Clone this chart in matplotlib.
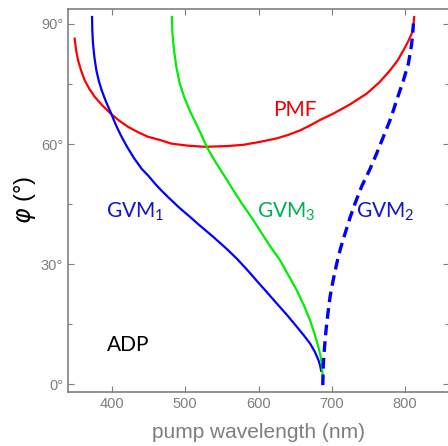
import matplotlib.pyplot as plt

plt.rcParams['font.family'] = ['Liberation Sans', 'DejaVu Sans']
plt.rcParams['mathtext.fontset'] = 'custom'
plt.rcParams['mathtext.rm'] = 'Lato'
plt.rcParams['mathtext.it'] = 'DejaVu Sans:italic'

# curve data (wavelength in nm, angle in deg)
pmf_wl = [349.1, 351, 353.7, 358, 362.8, 369, 376.4, 387, 398.3, 410, 421.9, 435, 449.2, 465.6,
          481, 503, 527, 558.4, 579.3, 601, 624.9, 641, 656.7, 670, 684, 702.2, 725, 747.8,
          765, 779.6, 790, 797.8, 804, 809.2, 811.5, 812.4]
pmf_phi = [86.3, 83.5, 80.9, 78.3, 75.9, 73.8, 71.8, 69.6, 67.6, 65.8, 64.3, 63.0, 61.8, 61.0,
           60.1, 59.6, 59.3, 59.5, 59.8, 60.5, 61.4, 62.3, 63.4, 64.6, 66.0, 67.6, 69.9, 72.6,
           75.4, 78.4, 80.9, 83.4, 85.5, 87.6, 89.7, 91.7]

gvm1_wl = [372.8, 373.2, 374.1, 376, 378.7, 382, 386, 392, 398.5, 405, 412, 420, 430, 440.6,
           450, 458.8, 468, 476.9, 492.5, 506.6, 520.2, 538.4, 556.7, 570.3, 585, 599.8,
           612, 624.9, 639, 652.2, 662, 670.4, 677, 681.7, 684, 685.5]
gvm1_phi = [91.7, 88.3, 85.1, 81.7, 78.4, 75.8, 73.4, 70.5, 67.8, 64.9, 62.2, 59.5, 56.5, 53.8,
            52.0, 50.1, 48.3, 46.7, 44.0, 41.8, 39.6, 36.8, 33.8, 31.4, 28.5, 25.4,
            22.9, 20.2, 17.3, 14.4, 12.2, 10.2, 8.1, 6.1, 4.8, 3.4]

gvm2_wl = [687.7, 688.5, 690.2, 692.2, 694.8, 697.7, 702, 706.8, 712, 718.2, 724.7, 731.8, 741,
           752.3, 761.4, 770.4, 779.6, 784.1, 788.7, 797.8, 804.6, 808.5, 810.5, 811.4]
gvm2_phi = [-0.2, 5.2, 9.5, 13.6, 17.8, 21.9, 26.1, 30.2, 34.0, 37.7, 41.5, 45.2, 49.5,
            53.8, 57.7, 61.8, 66.0, 68.4, 71.0, 75.9, 80.1, 84.3, 87.4, 90.1]

gvm3_wl = [481.8, 482.6, 484.7, 488, 492.5, 499, 506.6, 515, 522, 529.3, 541, 554.3, 565.5,
           577.1, 593, 602, 615, 629.4, 641, 652.2, 662, 670.4, 676.5, 681.7, 684.5, 686.3, 687.7]
gvm3_phi = [91.7, 87.5, 83.4, 79.1, 75.1, 71.5, 68.2, 65.0, 62.3, 59.3, 55.6, 51.8, 48.5,
            45.2, 41.0, 38.4, 34.7, 31.0, 27.2, 23.5, 19.7, 16.0, 12.6, 9.4, 7.2, 5.2, 1.9]

xticks = [400, 500, 600, 700, 800]
yticks = [0, 30, 60, 90]
yticklabels = ['0°', '30°', '60°', '90°']

gray = '#7f7f7f'
fig = plt.figure(figsize=(4.48, 4.46), dpi=100)
ax = fig.add_axes([68 / 448, 1 - 392 / 446, 381 / 448, 383 / 446])

ax.plot(pmf_wl, pmf_phi, color='#ff0000', lw=1.6)
ax.plot(gvm1_wl, gvm1_phi, color='#0000ff', lw=1.6)
ax.plot(gvm3_wl, gvm3_phi, color='#00ee00', lw=1.6)
ax.plot(gvm2_wl, gvm2_phi, color='#0000ff', lw=2.4, dashes=(3.2, 1.8))

ax.set_xlim(340, 860)
ax.set_ylim(-1.9, 93.7)
ax.set_xticks(xticks)
ax.set_yticks(yticks)
ax.set_yticklabels(yticklabels)
ax.set_yticks([15, 45, 75], minor=True)

for s in ax.spines.values():
    s.set_color(gray)
    s.set_linewidth(1.2)
ax.tick_params(which='both', direction='in', colors=gray, labelcolor=gray,
               top=True, right=True, labelsize=10.5, width=0.8)
ax.tick_params(which='major', length=4)
ax.tick_params(which='minor', length=3)

ax.set_xlabel('pump wavelength (nm)', color=gray, fontsize=15, labelpad=9)
ax.set_ylabel(r'$\varphi$ (°)', color='black', fontsize=17, labelpad=2)

lab = dict(fontsize=15, family='Lato', ha='center', va='center')
ax.text(649, 68.5, 'PMF', color='#ee0000', **lab)
ax.text(431.5, 43.0, 'GVM$_1$', color='#1414c8', **lab)
ax.text(637.6, 43.0, 'GVM$_3$', color='#00b050', **lab)
ax.text(772.8, 43.0, 'GVM$_2$', color='#1414c8', **lab)
ax.text(421.9, 9.8, 'ADP', color='black', **lab)

plt.savefig('out.png', dpi=100)
